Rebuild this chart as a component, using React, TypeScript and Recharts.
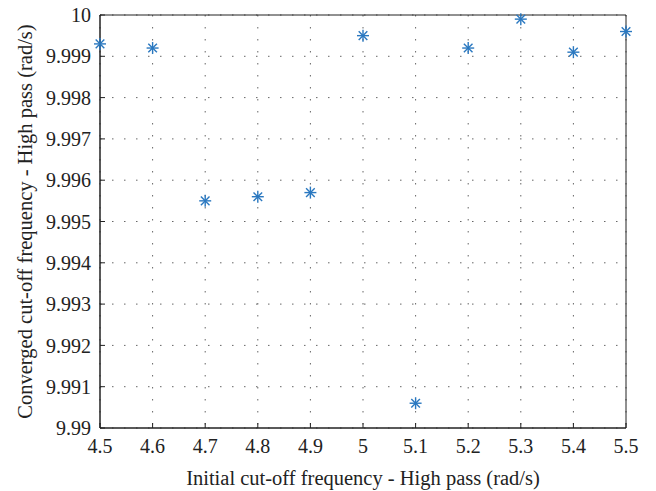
import { ScatterChart, Scatter, XAxis, YAxis, CartesianGrid, ReferenceArea } from "recharts";

// initial cut-off (x) and converged cut-off (y), high pass, rad/s
const initialFreq = [4.5, 4.6, 4.7, 4.8, 4.9, 5.0, 5.1, 5.2, 5.3, 5.4, 5.5];
const convergedFreq = [9.9993, 9.9992, 9.9955, 9.9956, 9.9957, 9.9995, 9.9906, 9.9992, 9.9999, 9.9991, 9.9996];

const xTicks = [4.5, 4.6, 4.7, 4.8, 4.9, 5.0, 5.1, 5.2, 5.3, 5.4, 5.5];
const yTicks = [9.99, 9.991, 9.992, 9.993, 9.994, 9.995, 9.996, 9.997, 9.998, 9.999, 10];

const points = initialFreq.map((x, i) => ({ x, y: convergedFreq[i] }));

const FONT = '"Liberation Serif", "DejaVu Serif", serif';
const BLUE = "#2a78c0";
const INK = "#222";

// matlab style '*' marker
const Star = (props: any) => {
    const { cx, cy } = props;
    const r = 6;
    const d = r * 0.72;
    return (
        <g stroke={BLUE} strokeWidth={1.4}>
            <line x1={cx - r} y1={cy} x2={cx + r} y2={cy} />
            <line x1={cx} y1={cy - r} x2={cx} y2={cy + r} />
            <line x1={cx - d} y1={cy - d} x2={cx + d} y2={cy + d} />
            <line x1={cx - d} y1={cy + d} x2={cx + d} y2={cy - d} />
        </g>
    );
};

const YLabel = (props: any) => {
    const { viewBox } = props;
    const cx = 25;
    const cy = viewBox.y + viewBox.height / 2;
    return (
        <text x={cx} y={cy} transform={`rotate(-90, ${cx}, ${cy})`} textAnchor="middle"
            dominantBaseline="central" fontFamily={FONT} fontSize={20.5} fill={INK}>
            Converged cut-off frequency - High pass (rad/s)
        </text>
    );
};

const XLabel = (props: any) => {
    const { viewBox } = props;
    const cx = viewBox.x + viewBox.width / 2;
    return (
        <text x={cx} y={478} textAnchor="middle" dominantBaseline="central"
            fontFamily={FONT} fontSize={20.5} fill={INK}>
            Initial cut-off frequency - High pass (rad/s)
        </text>
    );
};

const fmtX = (v: number) => String(Number(v.toFixed(1)));
const fmtY = (v: number) => String(Number(v.toFixed(3)));

export default function App() {
    const tickStyle = { fill: INK, fontFamily: FONT, fontSize: 20 };
    return (
        <div style={{ position: "absolute", left: 0, top: 0, background: "#fff" }}>
            <ScatterChart width={656} height={491} margin={{ top: 15, right: 30, left: 0, bottom: 0 }}>
                <CartesianGrid stroke="#666" strokeDasharray="1.5 10.5" />
                <XAxis
                    dataKey="x"
                    type="number"
                    domain={[4.5, 5.5]}
                    ticks={xTicks}
                    tickFormatter={fmtX}
                    height={63}
                    tick={tickStyle}
                    tickSize={-5}
                    tickMargin={16}
                    stroke={INK}
                    label={<XLabel />}
                />
                <XAxis
                    xAxisId="top"
                    orientation="top"
                    type="number"
                    domain={[4.5, 5.5]}
                    ticks={xTicks}
                    height={0}
                    mirror
                    tick={false}
                    tickSize={5}
                    stroke={INK}
                />
                <YAxis
                    dataKey="y"
                    type="number"
                    domain={[9.99, 10]}
                    ticks={yTicks}
                    tickFormatter={fmtY}
                    width={100}
                    tick={tickStyle}
                    tickSize={-5}
                    tickMargin={14}
                    stroke={INK}
                    label={<YLabel />}
                />
                <YAxis
                    yAxisId="right"
                    orientation="right"
                    type="number"
                    domain={[9.99, 10]}
                    ticks={yTicks}
                    width={0}
                    mirror
                    tick={false}
                    tickSize={5}
                    stroke={INK}
                />
                <ReferenceArea x1={4.5} x2={5.5} y1={9.99} y2={10} fill="none" stroke={INK} strokeWidth={1} ifOverflow="visible" />
                <Scatter data={points} shape={<Star />} isAnimationActive={false} />
            </ScatterChart>
        </div>
    );
}
